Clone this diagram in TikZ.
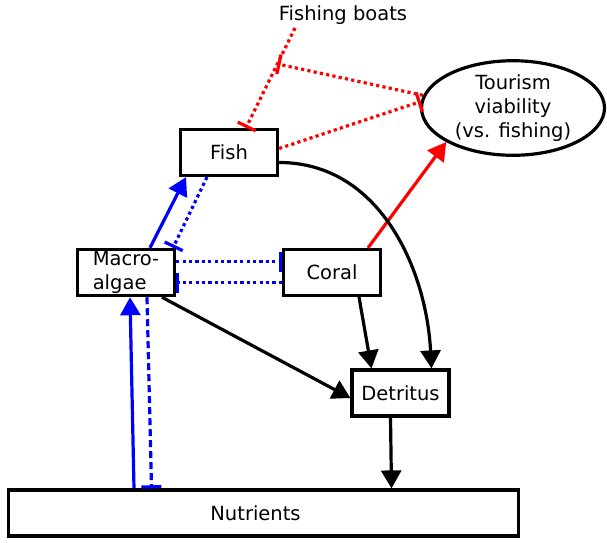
\documentclass[tikz,border=0pt]{standalone}
\usepackage{fontspec}
\setmainfont{DejaVu Sans}
\usetikzlibrary{arrows.meta,shapes.geometric,calc}
\tikzset{
  box/.style={draw,line width=3.2pt,minimum width=97pt,minimum height=46pt,align=center,inner sep=2pt},
  ellip/.style={draw,ellipse,line width=3.2pt,minimum width=183pt,minimum height=93pt,align=center,inner sep=0pt},
  arr/.style={line width=3.2pt,-{Triangle[length=18pt,width=20pt]}},
  inh/.style={line width=3.2pt,-{Bar[width=20pt,line width=3.2pt]}},
  dots/.style={dash pattern=on 3.2pt off 3.2pt}
}
\begin{document}
\begin{tikzpicture}[x=1pt,y=-1pt,font=\fontsize{19.5}{24}\selectfont,
 dashs/.style={dash pattern=on 7pt off 4pt}]
\useasboundingbox (0,0) rectangle (607,542);
% nodes
\node (boats) at (343,15) {Fishing boats};
\node[ellip] (tour) at (513,108) {Tourism\\viability\\(vs. fishing)};
\node[box] (fish) at (229,152.5) {Fish};
\node[box,align=left] (algae) at (126,272.5) {Macro-\\algae};
\node[box] (coral) at (332,272.5) {Coral};
\node[box] (detr) at (400.5,393) {Detritus};
\node[box,minimum width=510pt] (nutr) at (263.5,513) {Nutrients\hspace*{16pt}};
% fishing pressure
\coordinate (b0) at ([xshift=-48pt]boats.south);
\coordinate (b1) at ([xshift=17pt]fish.north);
\draw[inh,red,dots] (b0) -- (b1);
\coordinate (bm) at ($(b0)!0.36!(b1)$);
\draw[inh,red,dots] (tour.172) -- (bm);
\draw[inh,red,dots] ([yshift=4pt]fish.east) -- (tour.176);
\draw[arr,red] ([xshift=36pt]coral.north) -- (tour.207);
% detritus flows
\draw[arr] ([yshift=-10pt]fish.east) to[out=0,in=93] ([xshift=31pt]detr.north);
\draw[arr] ([xshift=27pt]coral.south) -- ([xshift=-29pt]detr.north);
\draw[arr] ([xshift=36pt]algae.south) -- ([yshift=-5pt]detr.west);
\draw[arr] ([xshift=-10pt]detr.south) -- ([xshift=128pt]nutr.north);
% macroalgae links
\draw[arr,blue] ([xshift=24pt]algae.north) -- ([xshift=-43pt]fish.south);
\draw[inh,blue,dots] ([xshift=-22pt]fish.south) -- ([xshift=47pt]algae.north);
\draw[inh,blue,dots] ([yshift=11pt]algae.east) -- ([yshift=11pt]coral.west);
\draw[inh,blue,dots] ([yshift=-10pt]coral.west) -- ([yshift=-10pt]algae.east);
\draw[arr,blue] ([xshift=-129.5pt]nutr.north) -- ([xshift=4pt]algae.south);
\draw[inh,blue,dashs] ([xshift=21pt]algae.south) -- ([xshift=-112pt]nutr.north);
\end{tikzpicture}
\end{document}
